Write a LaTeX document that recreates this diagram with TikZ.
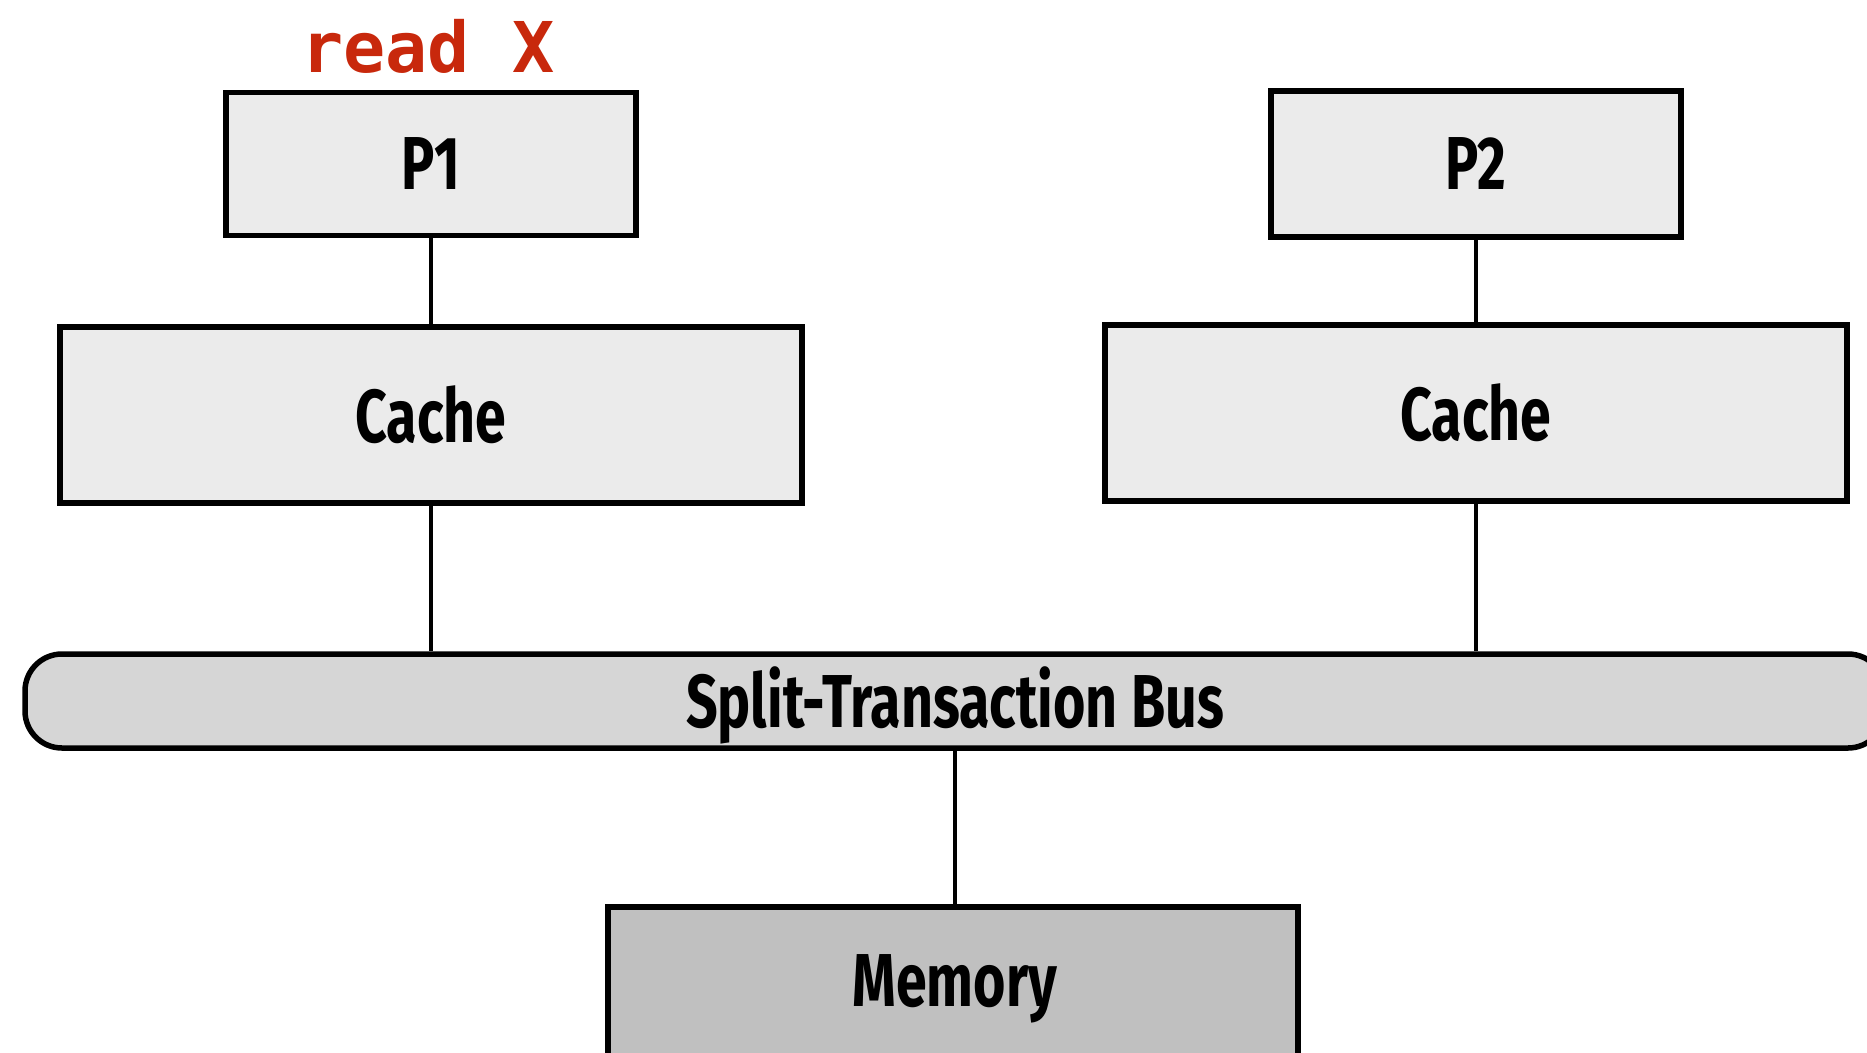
\documentclass[tikz,border=0pt]{standalone}
\usepackage{fontspec}
\usepackage{xcolor}
\usepackage{tikz}
\newfontfamily\boxfont[FakeStretch=0.74]{Fira Sans}
\newfontfamily\codefont{DejaVu Sans Mono}
\definecolor{readred}{HTML}{C8280C}
\definecolor{boxgray}{HTML}{EBEBEB}
\definecolor{busgray}{HTML}{D6D6D6}
\definecolor{memgray}{HTML}{C0C0C0}

\begin{document}
\begin{tikzpicture}[x=1pt, y=-1pt,
        unit/.style={draw, rectangle, line width=5.5pt, fill=boxgray, font=\boxfont\bfseries\fontsize{75}{80}\selectfont},
        wire/.style={line width=4.5pt}]
        \clip (0,0) rectangle (1867,1052);
        % Visual representation
        \node[unit, minimum width=410pt, minimum height=143pt] (p1) at (431,164) {P1};
        \node[unit, minimum width=410pt, minimum height=146pt] (p2) at (1476,164) {P2};
        \node[unit, minimum width=742pt, minimum height=176pt] (cache1) at (431,415) {Cache};
        \node[unit, minimum width=742pt, minimum height=176pt] (cache2) at (1476,413) {Cache};
        \node[unit, rounded corners=37pt, fill=busgray, minimum width=1860pt, minimum height=94pt] (bus) at (955,701) {};
        \node[font=\boxfont\bfseries\fontsize{75}{80}\selectfont] (buslabel) at (955,705) {Split-Transaction Bus};
        \node[unit, fill=memgray, minimum width=690pt, minimum height=250pt] (mem) at (953,1032) {};
        \node[font=\boxfont\bfseries\fontsize{75}{80}\selectfont] (memlabel) at (955,989) {Memory};
        \node[anchor=base, text=readred, font=\codefont\bfseries\fontsize{70}{74}\selectfont] (read) at (428,72) {read X};

        \draw[wire] (p1) -- (cache1);
        \draw[wire] (p2) -- (cache2);
        \draw[wire] (cache1) -- (cache1 |- bus.north);
        \draw[wire] (cache2) -- (cache2 |- bus.north);
        \draw[wire] (bus.south -| memlabel) -- (memlabel |- mem.north);
    \end{tikzpicture}
\end{document}
